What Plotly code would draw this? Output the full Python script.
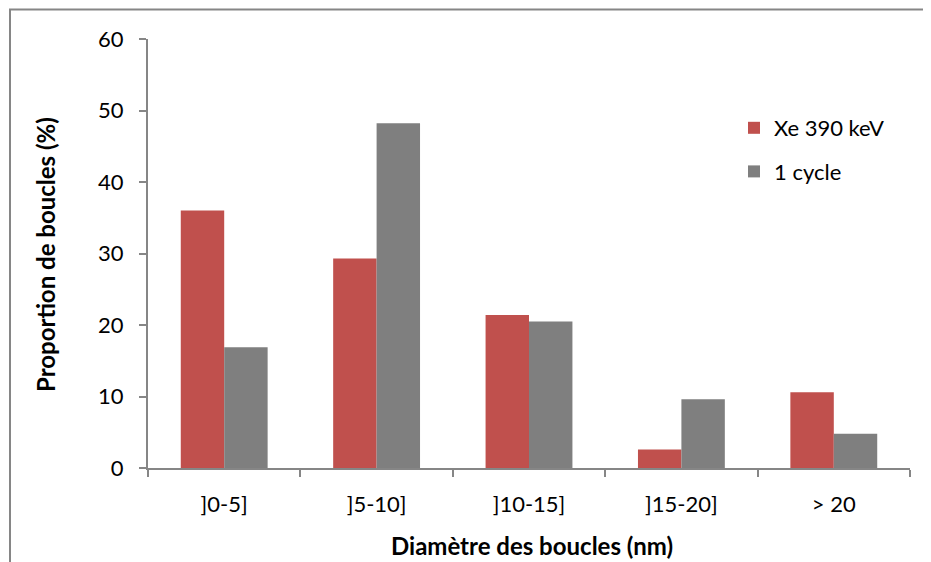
import plotly.graph_objects as go

categories = ["]0-5]", "]5-10]", "]10-15]", "]15-20]", "> 20"]
xe_390 = [36.0, 29.3, 21.4, 2.6, 10.6]
one_cycle = [16.9, 48.2, 20.5, 9.6, 4.8]
series_names = ["Xe 390 keV", "1 cycle"]
y_ticks = [0, 10, 20, 30, 40, 50, 60]

FONT = "Lato, Calibri, Carlito, sans-serif"
AX = "#868686"
OFF = 8  # page body margin offset

fig = go.Figure()
fig.add_trace(go.Bar(x=categories, y=xe_390, name=series_names[0],
                     marker=dict(color="#C0504D", line=dict(width=0)),
                     legendgroup="a"))
fig.add_trace(go.Bar(x=categories, y=one_cycle, name=series_names[1],
                     marker=dict(color="#7F7F7F", line=dict(width=0)),
                     legendgroup="b"))

W, H = 931, 562
# target screen coords of plot area
SX0, SX1, SY0, SY1 = 148, 910, 39, 468
L = SX0 - OFF
T = SY0 - OFF
R = W + OFF - SX1
B = H + OFF - SY1
pw, ph = SX1 - SX0, SY1 - SY0

def px(x):
    return (x - SX0) / pw

def py(y):
    return (SY1 - y) / ph

fig.update_layout(
    width=W, height=H,
    margin=dict(l=L, r=R, t=T, b=B, autoexpand=False),
    paper_bgcolor="white", plot_bgcolor="white",
    barmode="group", bargap=0.43, bargroupgap=0,
    font=dict(family=FONT, size=22, color="black"),
    showlegend=True,
    legend=dict(x=px(734), y=py(107), xanchor="left", yanchor="top",
                font=dict(family=FONT, size=22), tracegroupgap=12,
                itemwidth=30, bgcolor="rgba(0,0,0,0)"),
    xaxis=dict(type="category", showline=True, linecolor=AX, linewidth=2,
               ticks="outside", tickson="boundaries", ticklen=7, tickcolor=AX,
               tickwidth=1.5, showgrid=False, zeroline=False,
               ticklabelstandoff=16,
               tickfont=dict(family=FONT, size=22)),
    yaxis=dict(range=[0, 60], tickvals=y_ticks, showline=True, linecolor=AX,
               linewidth=2, ticks="outside", ticklen=7, tickcolor=AX,
               tickwidth=1.5, showgrid=False, zeroline=False,
               ticklabelstandoff=11,
               tickfont=dict(family=FONT, size=22)),
    shapes=[dict(type="rect", xref="paper", yref="paper",
                 x0=px(10), x1=px(945), y0=py(580), y1=py(9.5),
                 line=dict(color=AX, width=2), fillcolor="rgba(0,0,0,0)",
                 layer="below")],
    annotations=[
        dict(text="<b>Proportion de boucles (%)</b>", xref="paper", yref="paper",
             x=px(45), y=py(255), textangle=-90, showarrow=False,
             xanchor="center", yanchor="middle",
             font=dict(family=FONT, size=24)),
        dict(text="<b>Diamètre des boucles (nm)</b>", xref="paper", yref="paper",
             x=px(532), y=py(545), showarrow=False,
             xanchor="center", yanchor="middle",
             font=dict(family=FONT, size=24)),
    ],
)

fig.write_html("out.html")
